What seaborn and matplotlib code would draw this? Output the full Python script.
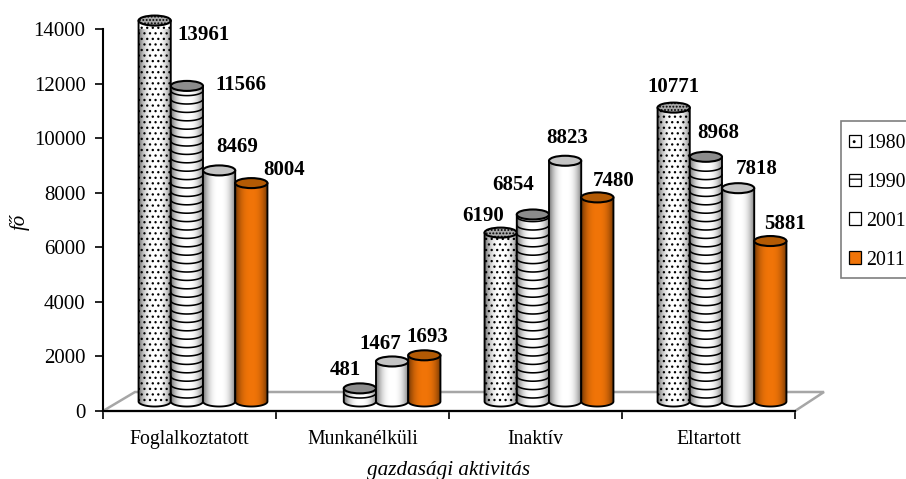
import numpy as np
import pandas as pd
import matplotlib
matplotlib.use("Agg")
import matplotlib.pyplot as plt
import matplotlib.transforms as mtrans
from matplotlib.patches import Ellipse, Polygon, Patch, Rectangle
import seaborn as sns

categories = ["Foglalkoztatott", "Munkanélküli", "Inaktív", "Eltartott"]
years = ["1980", "1990", "2001", "2011"]
v1980 = [13961, None, 6190, 10771]
v1990 = [11566, 481, 6854, 8968]
v2001 = [8469, 1467, 8823, 7818]
v2011 = [8004, 1693, 7480, 5881]
series = [v1980, v1990, v2001, v2011]

# label placement (pixels from the bar's value point), one row per year
label_off = [
    [(49, -3), None, (-18, 28), (0, 32)],
    [(54, 12), (-15, 29), (-20, 40), (12, 35)],
    [(18, 34), (-12, 28), (2, 34), (19, 30)],
    [(33, 24), (3, 29), (16, 27), (15, 28)],
]
faces = ["white", "white", "white", "#f07408"]
tops = ["#a8a8a8", "#8c8c8c", "#c4c4c4", "#b35a04"]
hatches = ["...", "", "", ""]

rows = [
    {"cat": c, "year": y, "value": v}
    for y, vals in zip(years, series)
    for c, v in zip(categories, vals)
    if v is not None
]
df = pd.DataFrame(rows)

sns.set_theme(style="white")
plt.rcParams["font.family"] = ["Liberation Serif", "DejaVu Serif"]
plt.rcParams["hatch.linewidth"] = 0.9
FS = 15

W, H = 906, 479
fig = plt.figure(figsize=(W / 100, H / 100), dpi=100)
ax = fig.add_axes([103 / W, 1 - 411 / H, (795 - 103) / W, (411 - 29) / H])


def fx(x, y):
    return (x / W, 1 - y / H)


sns.barplot(
    data=df, x="cat", y="value", hue="year", order=categories, hue_order=years,
    palette=dict(zip(years, faces)), width=0.745, gap=0, dodge=True, ax=ax,
    legend=False, errorbar=None, edgecolor="black", linewidth=0, saturation=1,
)
ax.set_xlim(-0.5, 3.5)
ax.set_ylim(0, 14000)
fig.canvas.draw()

DX, DY = 13.5, 9.5
off = ax.transData + mtrans.Affine2D().translate(DX, DY)
EH = 10 / (382 / 14000)  # ellipse height in data units

grad_t = np.linspace(0, 1, 64)
grad = np.zeros((1, 64, 4))
grad[0, :, 3] = 0.55 * np.abs(2 * grad_t - 1) ** 2.6

for j, cont in enumerate(ax.containers):
    for p in cont.patches:
        h = p.get_height()
        if not np.isfinite(h) or h == 0:
            continue
        x0, w = p.get_x(), p.get_width()
        xc = x0 + w / 2
        i = int(round(xc))
        z = 3 + j * 0.1
        p.set_transform(off)
        p.set_clip_on(False)
        p.set_zorder(z + 0.01)
        p.set_hatch(hatches[j])

        base = Ellipse((xc, 0), w, EH, facecolor=faces[j], edgecolor="none",
                       transform=off, zorder=z, clip_on=False)
        ax.add_patch(base)

        th = np.linspace(np.pi, 2 * np.pi, 60)
        ax_, ay_ = xc + w / 2 * np.cos(th), EH / 2 * np.sin(th)

        if years[j] == "1990":
            for yy in np.arange(8.5 / (382 / 14000), h - EH * 0.2, 8.4 / (382 / 14000)):
                ax.plot(ax_, ay_ + yy, color="black", lw=1.15, transform=off,
                        clip_on=False, zorder=z + 0.02)

        outline = np.column_stack([
            np.r_[ax_, xc + w / 2, xc - w / 2],
            np.r_[ay_, h, h],
        ])
        clip = Polygon(outline, closed=True, transform=off, facecolor="none",
                       edgecolor="none")
        im = ax.imshow(grad, extent=[x0, x0 + w, -EH, h], aspect="auto",
                       transform=off, zorder=z + 0.03, interpolation="bilinear")
        im.set_clip_path(clip)

        ax.plot(np.r_[xc - w / 2, ax_, xc + w / 2], np.r_[h, ay_, h], color="black",
                lw=1.35, transform=off, clip_on=False, zorder=z + 0.04)
        top = Ellipse((xc, h), w, EH, facecolor=tops[j], edgecolor="black", lw=1.5,
                      hatch="....." if years[j] == "1980" else None,
                      transform=off, zorder=z + 0.05, clip_on=False)
        ax.add_patch(top)

        ox, oy = label_off[j][i]
        ax.annotate(f"{int(h)}", xy=(xc, h), xytext=(ox + DX, oy - 1.5),
                    textcoords="offset pixels", ha="center", va="center",
                    fontsize=FS, fontweight="bold", color="black", zorder=10,
                    annotation_clip=False)

ax.set_xlim(-0.5, 3.5)
ax.set_ylim(0, 14000)

# floor of the 3-D frame
floor = Polygon([fx(103, 411), fx(135, 392), fx(824, 392), fx(795, 411)], closed=True,
                transform=fig.transFigure, facecolor="white", edgecolor="#a6a6a6",
                lw=1.8, zorder=1, clip_on=False)
ax.add_patch(floor)

for s in ["top", "right"]:
    ax.spines[s].set_visible(False)
for s in ["left", "bottom"]:
    ax.spines[s].set_visible(True)
    ax.spines[s].set_color("black")
    ax.spines[s].set_linewidth(1.5)
    ax.spines[s].set_zorder(2)

ax.set_yticks(np.arange(0, 14001, 2000))
ax.set_xticks(range(4))
ax.set_xticklabels(categories)
ax.set_xticks(np.arange(-0.5, 4), minor=True)
ax.tick_params(axis="x", which="major", length=0, labelsize=14.2, pad=14, colors="black")
ax.tick_params(axis="x", which="minor", length=6, width=1.2, color="black", bottom=True)
ax.tick_params(axis="y", which="major", length=6, width=1.2, color="black", left=True,
               labelsize=15, pad=6.5, labelcolor="black")
ax.set_xlabel("")
ax.set_ylabel("")
fig.text(*fx(449, 470), "gazdasági aktivitás", style="italic", fontsize=15.2,
         ha="center", va="center", color="black")
fig.text(*fx(20, 222), "fő", style="italic", fontsize=15, rotation=90,
         ha="center", va="center", color="black")

frame = Rectangle(fx(841, 278), 90 / W, (278 - 121) / H, transform=fig.transFigure,
                  facecolor="white", edgecolor="#7f7f7f", lw=1.2, zorder=2)
fig.add_artist(frame)
handles = [
    Patch(facecolor=faces[k], edgecolor="black", linewidth=0.9,
          hatch={"1980": "..", "1990": "--"}.get(years[k], ""), label=years[k])
    for k in range(4)
]
leg = fig.legend(
    handles=handles, loc="upper left", bbox_to_anchor=fx(849, 134),
    bbox_transform=fig.transFigure, fontsize=14.3, frameon=False, handlelength=0.6,
    handleheight=0.6, handletextpad=0.25, labelspacing=1.0, borderpad=0, borderaxespad=0,
)
leg.set_zorder(3)
for t in leg.get_texts():
    t.set_color("black")

fig.savefig("out.png", dpi=100, facecolor="white")
